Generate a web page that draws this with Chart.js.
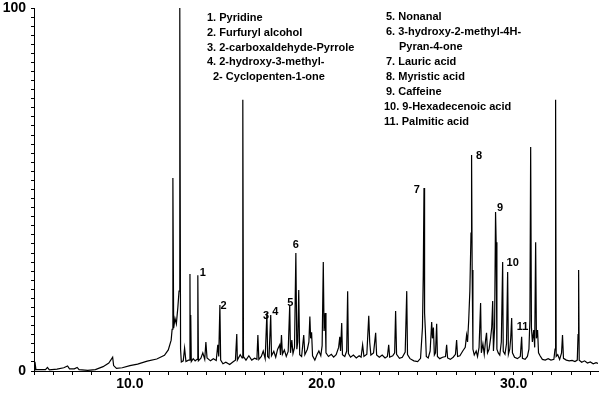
<!DOCTYPE html>
<html>
  <head>
    <meta charset="utf-8">
    <title>Chromatogram</title>
    <style>
      html, body { margin: 0; padding: 0; background: #fff; }
      .chart-container { width: 600px; height: 393px; position: relative; }
    </style>
  </head>
  <body>
    <div class="chart-container">
      <canvas id="myChart"></canvas>
    </div>
    <script src="https://cdn.jsdelivr.net/npm/chart.js"></script>
    <script>
      // Retention time (min) and relative abundance (%)
      const RT = [
        5.00, 5.05, 5.10, 5.60, 5.70, 5.80, 6.20, 6.55, 6.75, 6.85,
        7.10, 7.25, 7.35, 7.80, 8.20, 8.60, 8.90, 9.10, 9.15, 9.30,
        9.60, 10.00, 10.40, 10.90, 11.40, 11.80, 12.00, 12.15, 12.20, 12.24,
        12.28, 12.35, 12.42, 12.50, 12.56, 12.60, 12.64, 12.68, 12.78, 12.85,
        12.92, 13.05, 13.10, 13.13, 13.15, 13.17, 13.20, 13.30, 13.40, 13.50,
        13.54, 13.57, 13.70, 13.80, 13.90, 13.96, 14.02, 14.20, 14.35, 14.50,
        14.58, 14.63, 14.69, 14.73, 14.85, 15.00, 15.20, 15.40, 15.50, 15.57,
        15.60, 15.75, 15.85, 15.885, 15.92, 16.05, 16.20, 16.35, 16.50, 16.62,
        16.67, 16.72, 16.85, 16.95, 17.05, 17.14, 17.18, 17.25, 17.34, 17.38,
        17.50, 17.60, 17.70, 17.81, 17.85, 17.90, 17.95, 18.05, 18.15, 18.25,
        18.33, 18.37, 18.44, 18.50, 18.58, 18.65, 18.70, 18.75, 18.80, 18.85,
        18.95, 19.06, 19.12, 19.25, 19.33, 19.38, 19.42, 19.47, 19.52, 19.64,
        19.75, 19.85, 19.95, 20.02, 20.08, 20.12, 20.18, 20.22, 20.35, 20.50,
        20.62, 20.75, 20.88, 20.94, 20.98, 21.04, 21.08, 21.20, 21.30, 21.35,
        21.39, 21.50, 21.65, 21.80, 21.95, 22.05, 22.13, 22.20, 22.35, 22.45,
        22.50, 22.56, 22.70, 22.81, 22.86, 23.00, 23.15, 23.30, 23.42, 23.49,
        23.54, 23.70, 23.80, 23.85, 23.90, 24.05, 24.20, 24.35, 24.43, 24.47,
        24.60, 24.80, 25.00, 25.15, 25.25, 25.29, 25.33, 25.36, 25.40, 25.45,
        25.55, 25.65, 25.73, 25.77, 25.82, 25.87, 25.93, 25.99, 26.03, 26.15,
        26.30, 26.45, 26.51, 26.56, 26.70, 26.85, 26.97, 27.03, 27.08, 27.20,
        27.35, 27.48, 27.55, 27.60, 27.66, 27.72, 27.78, 27.81, 27.84, 27.88,
        27.95, 28.05, 28.12, 28.20, 28.28, 28.32, 28.40, 28.47, 28.54, 28.59,
        28.64, 28.72, 28.80, 28.86, 28.91, 28.95, 29.01, 29.06, 29.09, 29.13,
        29.20, 29.28, 29.36, 29.43, 29.46, 29.55, 29.63, 29.69, 29.73, 29.80,
        29.85, 29.90, 29.94, 30.05, 30.20, 30.35, 30.42, 30.46, 30.60, 30.72,
        30.80, 30.85, 30.89, 30.93, 30.98, 31.05, 31.10, 31.15, 31.19, 31.25,
        31.30, 31.38, 31.50, 31.65, 31.80, 31.95, 32.10, 32.16, 32.19, 32.22,
        32.30, 32.40, 32.50, 32.55, 32.60, 32.75, 32.90, 33.05, 33.20, 33.32,
        33.36, 33.39, 33.42, 33.55, 33.70, 33.85, 34.00, 34.15, 34.30, 34.40
      ];
      const INTENSITY = [
        0.3, 2.5, 0.4, 0.4, 1.0, 0.3, 0.5, 0.9, 1.4, 0.6,
        0.6, 1.0, 0.4, 0.2, 0.4, 1.2, 2.2, 3.8, 1.5, 0.7,
        0.9, 1.5, 1.9, 2.7, 3.3, 4.3, 5.8, 8.5, 11.5, 53.2,
        11.8, 14.5, 13.0, 17.6, 22.0, 100, 6.0, 2.5, 2.8, 6.3,
        2.6, 3.0, 3.0, 26.7, 3.2, 15.4, 2.6, 3.4, 2.8, 3.2,
        26.4, 2.8, 3.5, 5.0, 3.2, 8.0, 3.6, 2.8, 3.4, 2.9,
        7.2, 4.0, 18.2, 3.0, 2.0, 2.4, 1.8, 2.6, 3.0, 10.2,
        3.0, 4.5, 3.6, 74.7, 4.0, 3.0, 4.2, 3.0, 3.5, 3.2,
        9.9, 3.2, 4.0, 5.5, 3.4, 16.0, 4.0, 3.6, 15.4, 4.2,
        5.4, 3.8, 6.0, 7.2, 4.4, 9.9, 4.6, 5.8, 4.0, 5.4,
        18.2, 5.0, 8.5, 4.8, 6.5, 32.5, 6.0, 8.0, 22.3, 4.5,
        4.0, 9.9, 4.5, 6.0, 8.0, 15.0, 9.0, 10.7, 4.2, 3.0,
        4.5, 5.5, 4.2, 7.0, 30.0, 11.0, 16.0, 5.0, 4.0, 4.6,
        3.8, 4.5, 6.5, 9.4, 5.5, 13.2, 4.5, 4.0, 5.5, 22.0,
        4.8, 3.8, 4.4, 3.6, 4.2, 3.8, 7.2, 4.0, 4.6, 15.2,
        8.0, 4.4, 5.0, 10.5, 4.4, 3.8, 4.4, 3.6, 4.0, 7.2,
        3.8, 4.2, 5.0, 16.5, 4.6, 3.5, 3.8, 5.2, 22.0, 4.5,
        3.4, 2.8, 2.6, 3.5, 12.0, 26.0, 50.4, 16.0, 11.3, 4.0,
        3.6, 5.5, 13.5, 9.0, 12.0, 4.4, 5.0, 13.0, 4.0, 3.4,
        3.8, 4.0, 7.2, 3.6, 3.2, 3.8, 4.6, 8.5, 4.0, 4.2,
        5.5, 6.5, 9.9, 8.0, 14.0, 22.0, 38.0, 59.5, 27.8, 6.0,
        4.4, 5.5, 4.0, 6.5, 18.7, 5.0, 7.5, 4.6, 8.5, 10.5,
        5.0, 6.0, 9.0, 12.0, 19.3, 5.5, 12.0, 43.8, 35.5, 6.0,
        5.0, 4.4, 8.0, 30.0, 5.4, 4.6, 7.5, 27.3, 4.6, 6.0,
        9.0, 14.6, 5.0, 3.8, 3.4, 4.0, 9.4, 3.5, 3.2, 4.0,
        6.0, 14.0, 61.7, 12.0, 8.0, 11.3, 6.5, 35.5, 9.0, 11.3,
        5.0, 4.2, 3.2, 3.0, 3.4, 3.0, 3.2, 6.0, 74.7, 4.0,
        4.5, 3.2, 5.0, 9.9, 3.5, 3.0, 2.8, 2.9, 2.6, 3.0,
        10.0, 27.8, 3.0, 2.4, 2.8, 2.2, 2.5, 2.0, 2.3, 2.1
      ];

      // Numbered peak labels (text, retention time, abundance at the label)
      const PEAK_LABELS = ['1', '2', '3', '4', '5', '6', '7', '8', '9', '10', '11'];
      const PEAK_LABEL_RT = [13.80, 14.88, 17.10, 17.58, 18.36, 18.65, 24.95, 28.20, 29.30, 29.95, 30.47];
      const PEAK_LABEL_INT = [27.0, 17.9, 15.2, 16.3, 18.7, 34.8, 49.9, 59.2, 44.9, 29.8, 12.1];

      // Compound key, two columns
      const KEY_LEFT = ['1. Pyridine', '2. Furfuryl alcohol', '3. 2-carboxaldehyde-Pyrrole', '4. 2-hydroxy-3-methyl-', '2- Cyclopenten-1-one'];
      const KEY_RIGHT = ['5. Nonanal', '6. 3-hydroxy-2-methyl-4H-', 'Pyran-4-one', '7. Lauric acid', '8. Myristic acid', '9. Caffeine', '10. 9-Hexadecenoic acid', '11. Palmitic acid'];

      const X_MIN = 5.0;
      const X_MAX = 34.4;
      const X_LABELS = [10, 20, 30];
      const Y_LABELS = [0, 100];

      const points = RT.map((t, i) => ({ x: t, y: INTENSITY[i] }));

      // Draws the peak numbers and the compound key
      const labelPlugin = {
        id: 'peakLabels',
        afterDatasetsDraw(chart) {
          const { ctx, scales } = chart;
          ctx.save();
          ctx.fillStyle = '#000';
          ctx.font = 'bold 11px "Liberation Sans", Arial, sans-serif';
          ctx.textAlign = 'center';
          ctx.textBaseline = 'middle';
          PEAK_LABELS.forEach((txt, i) => {
            ctx.fillText(txt, scales.x.getPixelForValue(PEAK_LABEL_RT[i]), scales.y.getPixelForValue(PEAK_LABEL_INT[i]));
          });

          ctx.textAlign = 'left';
          KEY_LEFT.forEach((txt, i) => {
            const indent = i === 4 ? 6 : 0;
            ctx.fillText(txt, 207 + indent, 18 + i * 14.8);
          });
          KEY_RIGHT.forEach((txt, i) => {
            const indent = i === 2 ? 13 : (i >= 6 ? -2 : 0);
            ctx.fillText(txt, 386 + indent, 17 + i * 15);
          });
          ctx.restore();
        }
      };

      const axisFont = { family: '"Liberation Sans", Arial, sans-serif', size: 14, weight: 'bold' };

      new Chart(document.getElementById('myChart'), {
        type: 'scatter',
        data: {
          datasets: [{
            data: points,
            showLine: true,
            borderColor: '#000',
            borderWidth: 1.2,
            pointRadius: 0,
            tension: 0
          }]
        },
        options: {
          responsive: true,
          maintainAspectRatio: false,
          animation: false,
          layout: { padding: { top: 0, right: 2, left: 0, bottom: 0 } },
          plugins: {
            legend: { display: false },
            tooltip: { enabled: false }
          },
          scales: {
            x: {
              type: 'linear',
              min: X_MIN,
              max: X_MAX,
              afterFit: (scale) => { scale.height = 22; },
              border: { display: true, color: '#000', width: 1 },
              grid: { drawOnChartArea: false, drawTicks: true, tickLength: 4, color: '#000' },
              ticks: {
                stepSize: 1,
                includeBounds: false,
                autoSkip: false,
                maxRotation: 0,
                padding: 1,
                color: '#000',
                font: axisFont,
                callback: (v) => X_LABELS.includes(v) ? v.toFixed(1) : ''
              }
            },
            y: {
              min: 0,
              max: 100,
              afterFit: (scale) => {
                scale.width = 34;
                scale.paddingTop = 8;
                scale.paddingBottom = 0;
              },
              border: { display: true, color: '#000', width: 1 },
              grid: { drawOnChartArea: false, drawTicks: true, tickLength: 3, color: '#000' },
              ticks: {
                stepSize: 2.5,
                autoSkip: false,
                padding: 5,
                color: '#000',
                font: axisFont,
                callback: (v) => Y_LABELS.includes(v) ? String(v) : ''
              }
            }
          }
        },
        plugins: [labelPlugin]
      });
    </script>
  </body>
</html>
